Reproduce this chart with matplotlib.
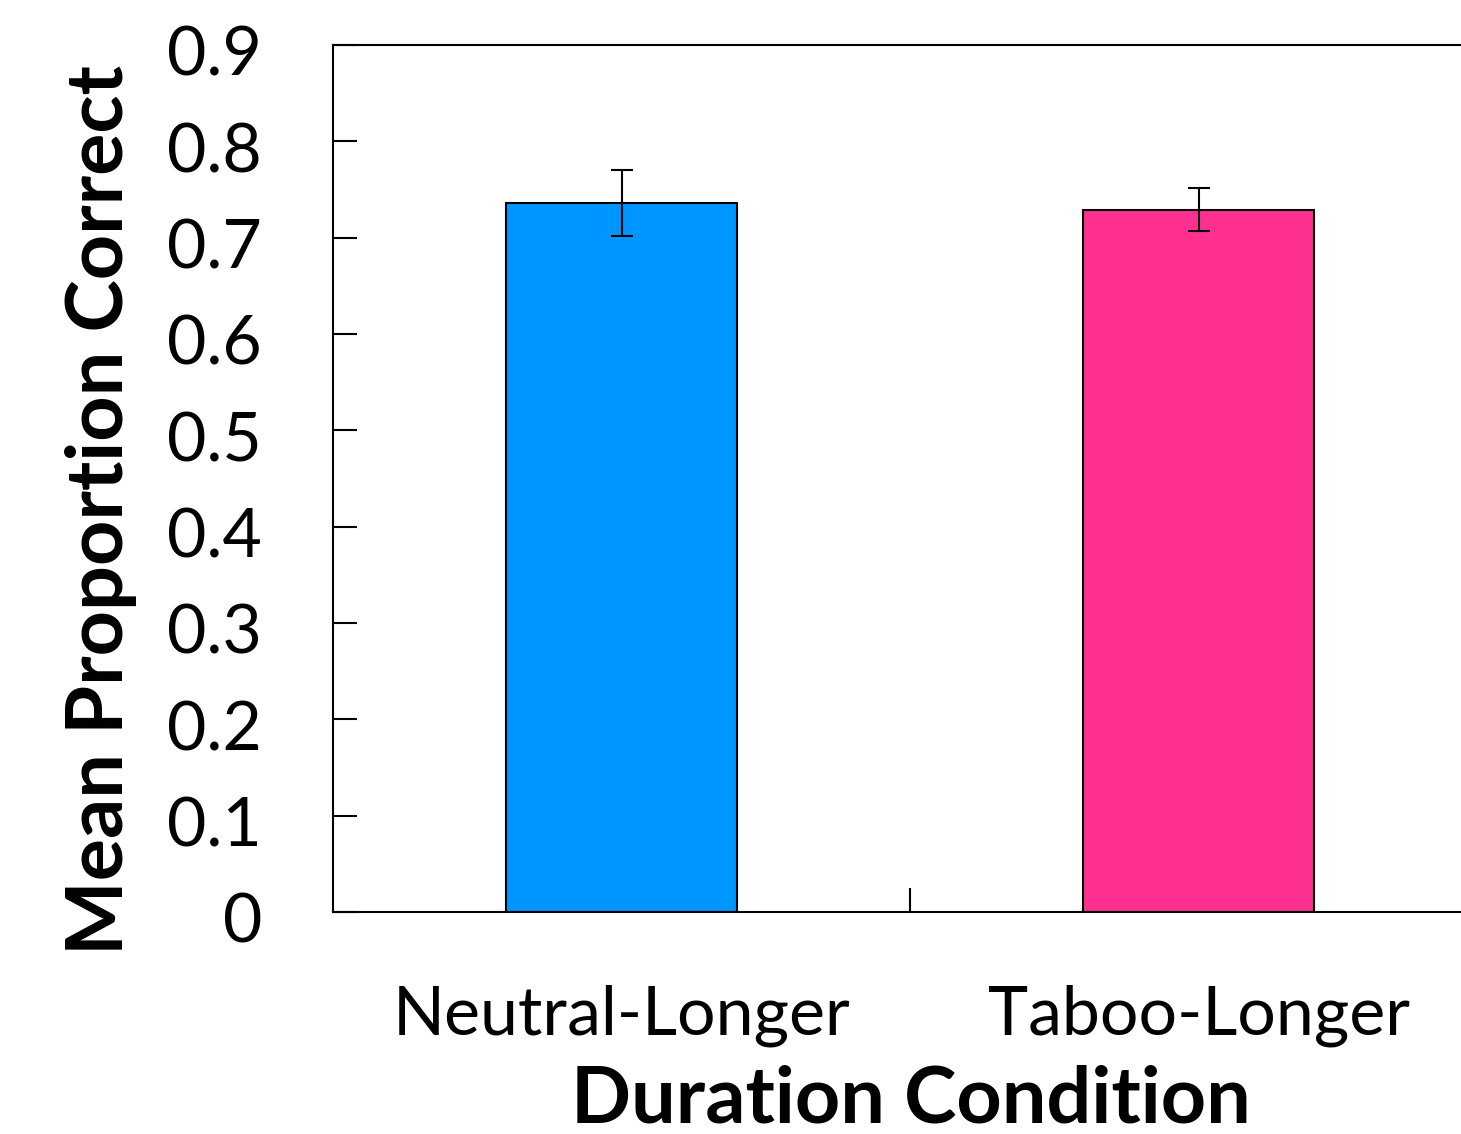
import matplotlib.pyplot as plt
import matplotlib.transforms as mtransforms

plt.rcParams['font.family'] = ['Lato', 'DejaVu Sans']

categories = ['Neutral-Longer', 'Taboo-Longer']
means = [0.736, 0.729]
errors = [0.034, 0.022]
colors = ['#0096ff', '#ff3190']
yticks = [0, 0.1, 0.2, 0.3, 0.4, 0.5, 0.6, 0.7, 0.8, 0.9]
ytick_labels = ['0', '0.1', '0.2', '0.3', '0.4', '0.5', '0.6', '0.7', '0.8', '0.9']

fig = plt.figure(figsize=(14.61, 11.34), dpi=100)
ax = fig.add_axes([0.2279, 0.1958, 0.79, 0.7646])

x = range(len(categories))
ax.bar(x, means, width=0.4, color=colors, edgecolor='black', linewidth=1.5,
       yerr=errors, capsize=8, error_kw={'elinewidth': 1.5, 'capthick': 1.5})

ax.set_xlim(-0.5, 1.5)
ax.set_ylim(0, 0.9)
ax.set_yticks(yticks)
ax.set_yticklabels(ytick_labels, fontsize=49)
ax.tick_params(axis='y', direction='in', length=17, width=1.5, pad=51)
# labels sit a little below their ticks in the original
shift = mtransforms.ScaledTranslation(0, -0.06, fig.dpi_scale_trans)
for lab in ax.get_yticklabels():
    lab.set_transform(lab.get_transform() + shift)

# category labels, with a separator tick between the groups
ax.set_xticks(list(x))
ax.set_xticklabels(categories, fontsize=49)
ax.tick_params(axis='x', length=0, pad=52)
ax.set_xticks([0.5], minor=True)
ax.tick_params(axis='x', which='minor', direction='in', length=17, width=1.5)

for side in ['left', 'bottom', 'top']:
    ax.spines[side].set_linewidth(1.5)
ax.spines['right'].set_visible(False)

ax.set_xlabel('Duration Condition', fontsize=57, fontweight='bold')
ax.xaxis.set_label_coords(0.501, -0.1765)
ax.set_ylabel('Mean Proportion Correct', fontsize=57, fontweight='bold')
ax.yaxis.set_label_coords(-0.1695, 0.4637)

fig.savefig('out.png', dpi=100)
